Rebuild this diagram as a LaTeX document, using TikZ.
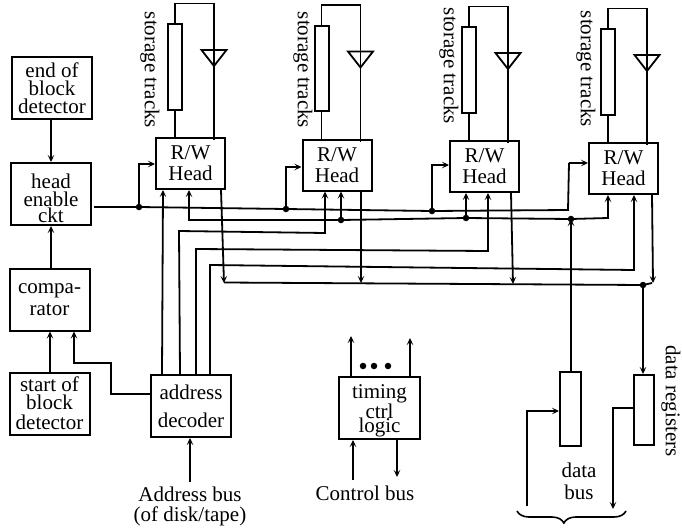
\documentclass[tikz,border=0pt]{standalone}
\usepackage{fontspec}
\setmainfont{Liberation Serif}
\usetikzlibrary{arrows.meta,decorations.pathreplacing}
\tikzset{
  unit box/.style={draw=black, line width=2pt, minimum width=#1, minimum height=62pt,
    inner sep=0pt, align=center, font=\fontsize{21}{18}\selectfont},
  unit box/.default=80pt,
  track box/.style={draw=black, line width=2pt, minimum width=14pt, minimum height=85pt, inner sep=0pt},
  wire/.style={line width=1.8pt},
  signal/.style={wire,-{Stealth[length=7pt,width=6.5pt,inset=3pt]}},
  junction/.style={circle, fill=black, inner sep=0pt, minimum size=6.5pt},
  caption/.style={font=\fontsize{21}{20}\selectfont, align=center, inner sep=0pt}
}
\newcommand{\rwHead}[5]{%
  \node[unit box=69pt, minimum height=51pt] (head#1) at (#2,#3) {R/W\\[3pt]Head};%
  \node[track box] (track#1) at ([shift={(-15.5,-70)}]head#1.north) {};%
  \coordinate (tip#1) at ([shift={(23.5,-71)}]head#1.north);%
  \draw[wire] (head#1.north -| track#1) -- (track#1.south);%
  \draw[wire] (track#1.north) -- ++(0,-20) -| ([yshift=-16pt]tip#1);%
  \draw[wire] (tip#1) -- ++(-12.5,-16) -- ++(25,0) -- cycle;%
  \draw[wire] (tip#1) -- ([yshift=-3pt]head#1.north -| tip#1);%
  \node[caption, rotate=-90] (tracks#1) at (#4,#5) {storage tracks};%
}

\begin{document}
\begin{tikzpicture}[x=1pt,y=-1pt]
  \useasboundingbox (0,0) rectangle (682,527);
  \rwHead{1}{190.5}{163.5}{150}{70}
  \rwHead{2}{337}{165}{303}{70}
  \rwHead{3}{484.5}{166.5}{449}{66}
  \rwHead{4}{623.5}{168.5}{586}{69}

  \node[unit box] (endblock) at (52,88) {end of\\block\\detector};
  \node[unit box] (enable) at (51,194) {\rule{0pt}{23pt}head\\enable\\[-2pt]ckt};
  \node[unit box] (compare) at (49.5,299.5) {compa-\\[4pt]rator};
  \node[unit box] (startblock) at (49.5,403.5) {start of\\block\\[2pt]detector};
  \node[unit box] (decoder) at (191,406) {address\\[10pt]decoder};
  \node[unit box=81pt] (timing) at (379.5,408) {\rule{0pt}{20pt}timing\\ctrl\\[-4pt]logic};
  \node[track box, minimum width=21pt, minimum height=74pt] (regin) at (570.5,409) {};
  \node[track box, minimum width=20pt, minimum height=70pt] (regout) at (644,410) {};

  \node[caption] (addrbus) at (190,506) {Address bus\\(of disk/tape)};
  \node[caption] (ctrlbus) at (365,493) {Control bus};
  \node[caption] (databus) at (579,481) {data\\[2pt]bus};
  \node[caption, rotate=-90] (regs) at (671,401) {data registers};

  % left column
  \draw[signal] (endblock.south -| 51,0) -- (enable.north -| 51,0);
  \draw[signal] (compare.north -| 51,0) -- (enable.south -| 51,0);
  \draw[signal] (startblock.north -| 50,0) -- (compare.south -| 50,0);
  \draw[signal] (decoder.west |- 0,394) -| (111,363) -| (compare.south -| 74,0);
  \coordinate (addrin) at (190,482);
  \draw[signal] (addrin) -- (decoder.south -| addrin);

  % head enable bus
  \node[junction] (en1) at (139,207) {};
  \node[junction] (en2) at (286,209) {};
  \node[junction] (en3) at (432,211) {};
  \draw[wire] ([xshift=2pt]enable.east |- en1) -- (en1.center) -- (en2.center) -- (en3.center) -- (568,210) -- (569,163);
  \draw[signal] (569,163) -- (head4.west |- 0,163);
  \draw[signal] (en1.center) |- (head1.west |- 0,164);
  \draw[signal] (en2.center) |- (head2.west |- 0,167);
  \draw[signal] (en3.center) |- (head3.west |- 0,165);

  % write data bus
  \node[junction] (wr2) at (341,220) {};
  \node[junction] (wr3) at (466,218) {};
  \node[junction] (wr4) at (571,219) {};
  \draw[signal] (wr2.center) -- (head2.south -| wr2);
  \draw[signal] (wr3.center) -- (head3.south -| wr3);
  \draw[signal] (regin.north -| wr4) -- (wr4.center);
  \draw[signal] (wr2.center) -- (189,220) -- (head1.south -| 189,0);
  \draw[signal] (wr2.center) -- (wr3.center) -- (wr4.center) -- (608,218) -- (head4.south -| 608,0);

  % decoder select lines
  \draw[signal] (decoder.north -| 162,0) -- (head1.south -| 163,0);
  \draw[signal] (decoder.north -| 180,0) -- (179,231) -- (325,233) -- (head2.south -| 325,0);
  \draw[signal] (decoder.north -| 196,0) -- (196,249) -- (488,251) -- (head3.south -| 488,0);
  \draw[signal] (decoder.north -| 210,0) -- (210,265) -- (634,270) -- (head4.south -| 634,0);

  % read data bus
  \node[junction] (rd) at (643,285) {};
  \draw[wire] (224,282.5) -- (rd.center) -- (652,283);
  \draw[signal] (head1.south -| 221,0) -- (224,283);
  \draw[signal] (head2.south -| 361,0) -- (361,283);
  \draw[signal] (head3.south -| 511,0) -- (513,284);
  \draw[signal] (head4.south -| 652,0) -- (653,283);
  \draw[signal] (rd.center) -- (regout.north -| rd);

  % timing logic
  \draw[signal] (timing.north -| 351,0) -- (351,336);
  \draw[signal] (timing.north -| 410,0) -- (410,338);
  \draw[signal] (353,480) -- (timing.south -| 353,0);
  \draw[signal] (timing.south -| 397,0) -- (397,477);
  \foreach \dotx in {363,374,388}
    \node[junction] (dot\dotx) at (\dotx,366) {};

  % data registers
  \draw[signal] (527,506) |- (regin.west |- 0,411);
  \draw[signal] (regout.west |- 0,408) -| (613,509);
  \coordinate (braceleft) at (517,511);
  \coordinate (braceright) at (626,511);
  \draw[line width=1.6pt, decorate, decoration={brace, amplitude=12pt, aspect=0.57}] (braceright) -- (braceleft);
\end{tikzpicture}
\end{document}
